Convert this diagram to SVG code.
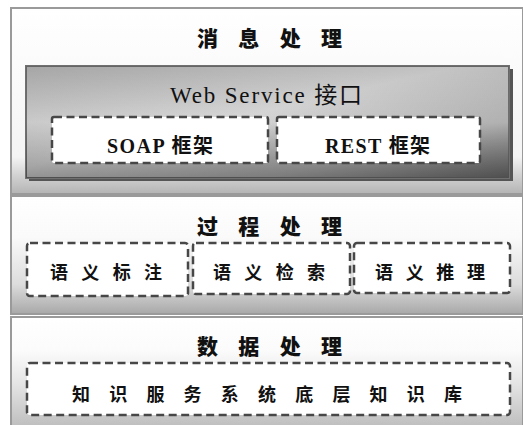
<svg xmlns="http://www.w3.org/2000/svg" width="523" height="425" viewBox="0 0 523 425">
<defs>
<linearGradient id="g1" x1="0" y1="0" x2="0" y2="1">
<stop offset="0" stop-color="#ffffff"/>
<stop offset="0.8" stop-color="#f4f4f4"/>
<stop offset="0.9" stop-color="#d2d2d2"/>
<stop offset="1" stop-color="#b4b4b4"/>
</linearGradient>
<linearGradient id="g2" x1="0" y1="0" x2="0" y2="1">
<stop offset="0" stop-color="#ffffff"/>
<stop offset="0.35" stop-color="#fafafa"/>
<stop offset="0.75" stop-color="#dcdcdc"/>
<stop offset="1" stop-color="#a8a8a8"/>
</linearGradient>
<linearGradient id="g3" x1="0" y1="0" x2="0" y2="1">
<stop offset="0" stop-color="#ffffff"/>
<stop offset="0.3" stop-color="#fbfbfb"/>
<stop offset="0.6" stop-color="#e4e4e4"/>
<stop offset="1" stop-color="#bcbcbc"/>
</linearGradient>
<linearGradient id="gd" x1="0" y1="0" x2="1" y2="1">
<stop offset="0" stop-color="#b8b8b8"/>
<stop offset="0.45" stop-color="#d8d8d8"/>
<stop offset="0.75" stop-color="#b0b0b0"/>
<stop offset="1" stop-color="#707070"/>
</linearGradient>
<linearGradient id="gdv" x1="0" y1="0" x2="0" y2="1">
<stop offset="0" stop-color="#000" stop-opacity="0.1"/>
<stop offset="0.5" stop-color="#000" stop-opacity="0"/>
<stop offset="1" stop-color="#000" stop-opacity="0.3"/>
</linearGradient>
</defs>
<style>
.panel{stroke:#9a9a9a;stroke-width:2}
.dash{fill:#ffffff;stroke:#474747;stroke-width:2.5;stroke-dasharray:8 4.5}
.title{font-family:"Noto Sans CJK SC","Noto Sans CJK JP",sans-serif;font-weight:900;font-size:21px;fill:#111}
.lab{font-family:"Noto Sans CJK SC",sans-serif;font-weight:700;font-size:18px;fill:#111}
.ser{font-family:"Liberation Serif","Noto Sans CJK SC",serif;fill:#111}
</style>
<rect x="0" y="0" width="523" height="425" fill="#ffffff"/>
<g id="panel-message">
<rect class="panel" x="11" y="8" width="512" height="186" fill="url(#g1)"/>
<text class="title" x="197" y="46" textLength="145" lengthAdjust="spacing">消息处理</text>
<g id="webservice">
<rect x="29" y="69" width="484" height="112" fill="#555"/>
<rect x="26" y="66" width="483" height="112" fill="url(#gd)" stroke="#707070" stroke-width="2"/>
<rect x="26" y="66" width="483" height="112" fill="url(#gdv)"/>
<text class="ser" x="170" y="103" font-size="23" textLength="192" lengthAdjust="spacing">Web Service 接口</text>
</g>
<g id="soap">
<rect class="dash" x="52" y="117" width="216" height="46" rx="2"/>
<text class="ser" x="107" y="153" font-size="20" font-weight="bold" textLength="106" lengthAdjust="spacing">SOAP 框架</text>
</g>
<g id="rest">
<rect class="dash" x="277" y="117" width="203" height="46" rx="2"/>
<text class="ser" x="325" y="153" font-size="20" font-weight="bold" textLength="105" lengthAdjust="spacing">REST 框架</text>
</g>
</g>
<g id="panel-process">
<rect class="panel" x="11" y="196" width="512" height="118" fill="url(#g2)"/>
<text class="title" x="197" y="234" textLength="145" lengthAdjust="spacing">过程处理</text>
<g id="annotate">
<rect class="dash" x="27" y="243" width="161" height="53" rx="3"/>
<text class="lab" x="50" y="279" textLength="112" lengthAdjust="spacing">语义标注</text>
</g>
<g id="retrieve">
<rect class="dash" x="193" y="243" width="157" height="51" rx="3"/>
<text class="lab" x="213" y="279" textLength="112" lengthAdjust="spacing">语义检索</text>
</g>
<g id="reason">
<rect class="dash" x="354" y="243" width="156" height="50" rx="3"/>
<text class="lab" x="375" y="279" textLength="110" lengthAdjust="spacing">语义推理</text>
</g>
</g>
<g id="panel-data">
<rect class="panel" x="11" y="317" width="512" height="112" fill="url(#g3)"/>
<text class="title" x="197" y="354" textLength="145" lengthAdjust="spacing">数据处理</text>
<g id="kb">
<rect class="dash" x="27" y="363" width="483" height="52" rx="3"/>
<text class="lab" x="72" y="401" font-size="22" textLength="390" lengthAdjust="spacing">知识服务系统底层知识库</text>
</g>
</g>
<g id="connectors"/>
</svg>
